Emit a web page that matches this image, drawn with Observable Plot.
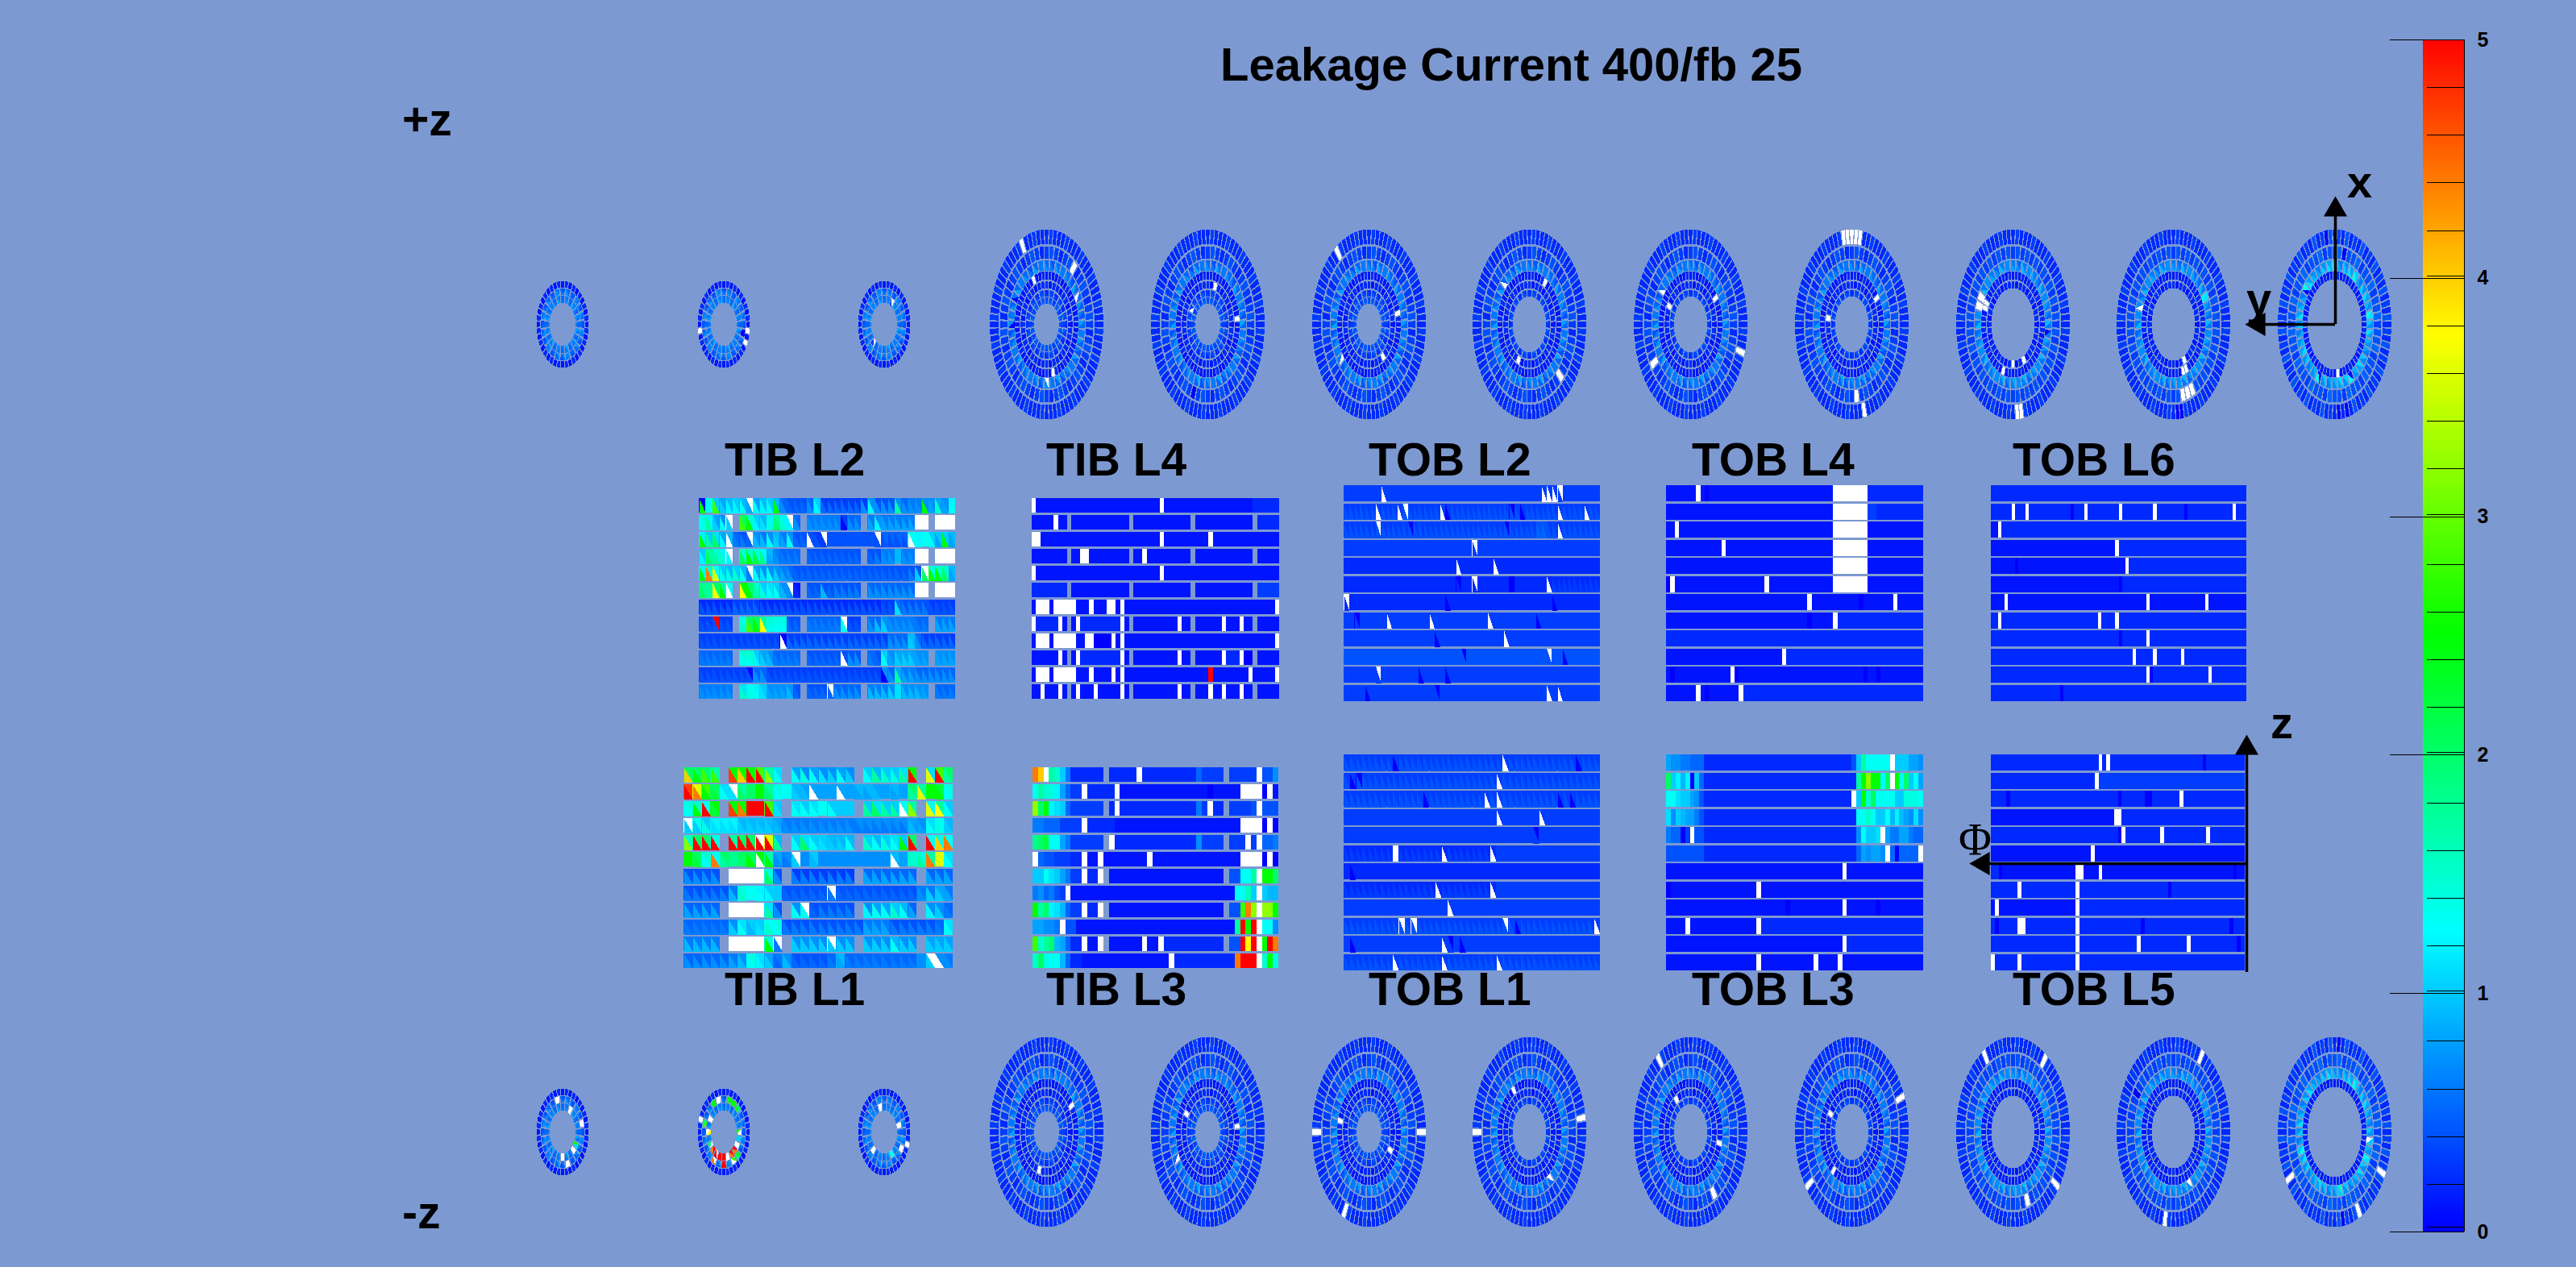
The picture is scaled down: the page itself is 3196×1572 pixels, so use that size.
<!DOCTYPE html>
<html><head><meta charset="utf-8">
<script src="https://cdn.jsdelivr.net/npm/d3@7"></script>
<script src="https://cdn.jsdelivr.net/npm/@observablehq/plot@0.6"></script>
<style>
html,body{margin:0;padding:0;background:#7d99d1;}
#chart{position:relative;width:3196px;height:1572px;background:#7d99d1;overflow:hidden;font-family:"Liberation Sans",Arial,sans-serif;}
#chart svg{position:absolute;max-width:none;background:transparent;}
.lab{position:absolute;font-weight:bold;color:#000;white-space:nowrap;line-height:1;}
</style></head><body><div id="chart"></div>
<script>
// ---------- value codes ----------
const levelTable={a:0,b:.1,c:.2,d:.3,e:.4,f:.5,g:.6,h:.7,i:.8,j:.9,k:1,l:1.1,m:1.2,n:1.3,o:1.4,p:1.5,q:1.6,r:1.7,s:1.8,t:2,u:2.2,v:2.5,x:2.8,y:3.2,z:3.6,A:3.75,B:4,C:4.4,D:4.7,E:5};
const colorStops=[0,1.25,2.5,3.75,5];
const colorNames=["#0000ff","#00ffff","#00ff00","#ffff00","#ff0000"];
const majorTicks=[0,1,2,3,4,5];
const minorTicks=[.02,.2,.4,.6,.8,1.01,1.2,1.4,1.6,1.8,2.01,2.2,2.4,2.6,2.8,3.01,3.2,3.4,3.6,3.8,4.01,4.2,4.4,4.6,4.8];

// ---------- barrel maps with stereo modules: "LU" lower/upper triangle, ".." no module, *n repeat ----------
const tibL1Rows=[
"Bt vt xt xr .. Dv Bv Ev Ex yr nl .. ni oh ni lh kh ni kh .. nk rj pk ok rl Ev .. zl Ex rt",
"ED Cz vx ut nl lw tr tt vv tr no nn kj ji wi ii ii wi ii ij ij ji ii ij ii rt zr vv vu no",
"no vp En uv .. Dv Cv EE EE Ex lk .. nl nk nl nn nk kk kk .. rk tl rk rk wn yr .. zn Ar nk",
"kw kn ok lm lm lm kj kj kj kj ji hg hg hg hg hg hg hg hg gh gh gh gh gh gh ji ih nl on kj",
"yp Et Et Eo .. Er Et Et Ew Ez rj .. nk tl nk lk kj kj nj .. pk nj ok nl vk Et .. En Bo Cn",
"vv ut np Cn rt ss tt vt wv vr hi gh kw hh jk hh hh hh hh hh hh hh hh wj ii pp ro Cr zz nl",
"he he he he .. ww ww ww ww to he .. gd gd gd gd gd gd gd .. if if if if if if .. if if if",
"ge ge ge ge ge jg po nn nm mk kk fe fe fe fe fe gw fe fe fe fe fe fe fe fe fe hg kg ki ig",
"if if if if .. ww ww ww ww rl he .. nh nw fe ge ge ge ge .. mh ni ni pk nj if .. mh kh gf",
"gf gf gf gf gf kh nl jk lk pn no ge ge ge ge ge ge ge ge ge ig ig ig ge ge ge ge ge gf nl",
"jg jg jg jg .. ww ww ww ww vo gw .. kh kh kh kh kw kh kh .. kh kh kh nj kh kh .. ki ki ki",
"hf hf hf hf hf ig jh no ml ki fg jh fe fe fe fe gf ij gf gf gf gf gf gf gf gf hh kw wh hg"];
const tibL2Rows=[
"va nn xk ki mj mk nj iw ni mj nk vj hf fe fe fe hf mk fd fd fd fd fd fd hd nh he he he rh hf hg hg vh ih pi ih nm",
"no rm ki nh kw .. xt vp mk lj om tr pm mw hf .. hg hg hg hg hg ad hf hf .. ig mh ig ig ig ig ig ww ww .. ww ww ww",
"vm rk tl mi wj gf ge fw jh jg nh kj ig nh fe fe we ed dw ee ee ee ee ee ee ee ew ef ef ef ef wn nm nn nk ik vk ij",
"mk tr rp pm mw .. to vp uo sm ij hg gf gf gf .. fe fe fe fe fe fe fe fe .. fe ge hg hg jj hg hg ww ww .. ww ww ww",
"vn Cp zn nk oj pk nj gw ni lh nh kh ig hf fe fe fe fe fe fe fe fe fe fe fe fe fe fe fe fe fe ge ke tw vo vp tp ij",
"ts rs At vr wn .. Av vt rp ok nl nk jh hw cb .. fe fe je fe ge ge ge ge .. hf hf hf hf hf hf hf ww ww .. ww ww ww",
"ec ec ec ec ec fd fd fd fd ec ec ec ec ec ec ec ec ec ec ec ec ec ec ec ec ec ec ed ed lf ge ge ge ge ed ed ed ed",
"ed ed eE ed ed .. pn xt vt Ar np no no fe fe .. gf gf gf gf gf nw ed ed .. hf jf kh hg hg hg hg gf gf .. ig ig ig",
"ed ed ed ed ed ed ed ed ed ed ed ed wa fd fd fd fd fd fd fd fd fd fd fd fd fd fd fd hf hf hf kj hf fd fd fd fd fd",
"gf gf gf gf gf .. np np mk ki jh gf gf gf gf .. fe fe fe fe fe we he he .. gf fe nk ih ki ki ki ih ih .. ih ih ih",
"ed ed ed ed ed ed ed ea hf hf ed ed ed ed ed ed ed ed ed ed ed ed ed ed ed ed ed ah hf ri ig ig hf hf hf hf hf hf",
"hg hg hg hg hg .. pl on nm lk ih ih ih jh fe .. fe fe fe fw hf hf hf hf .. jg jg jg kh ll jh jh jh ih .. gf gf gf"];
const tobL1Rows=[
"ed*8 ad ed*17 wd ed*11 ad ed*3","ed ad ea ed*22 wd ed*16","ed*13 ad ed*9 wd ed wd ed*9 ad ed ad ed*4","dd*25 wd dd*6 wd dd*9",
"dd*31 da dd*10","dc*8 ww dc*7 wc dc*7 wc dd*17","cc ac cc*40","dc*15 wc dc*8 wc dd*17",
"dd*17 wd dd*24","ed*9 ew ed ew ed*14 ew ed ad ed*12 wd","dd ad dd*14 wd da dd ad dd*22","ed*8 wd ed*7 wd ed*8 wd ed*16"];
const tobL2Rows=[
"dd*7 wd dd*29 wd wd wd dw dd*7","ed*6 wd ed*3 wd ew ed*6 wd ad ed*11 ea ed ad ed*6 wd ed*4 wd ed*2",
"ed*6 ew ed*5 ea ed*17 ea ed*5 fe fe ed*2 wd ed*7","dd*24 dw dd*23",
"cc*21 wc cc*6 wc cc*19","cc*21 ca cc*2 cw cc*6 aa cc*6 wc dc*9","cw cc*18 ac cc*19 ac cc*8",
"dd*2 da dd*5 wd dd*7 wd dd*10 wd dd*8 ad dd*11","dd*17 ad dd*12 wd dd*17","ee*22 ea ee*15 ew ee*2 ae ee*6",
"dd*6 dw dd*7 ad dd*4 ad dd*28","dd*4 ad dd*12 da dd*20 wd dd wd dd*7"];

// ---------- barrel maps with plain modules: code + run length, w = no reading, . = no module ----------
const tibL3Rows=[
"C1 B1 w1 r1 p1 k1 g1 c6 .1 c5 w1 c10 f1 d4 .1 d5 w1 e2 h1",
"n1 r1 p1 o1 m1 i1 f1 d2 w1 c5 w1 b16 a1 b5 w4 a1 w1 b1",
"y1 t1 v1 m1 l1 k1 f1 d6 .1 c1 w1 c14 g1 d1 w1 c2 .1 d4 e1 w1 e3",
"g2 f3 d4 w1 c5 b23 w4 a1 w1 a1",
"s1 t1 u1 n2 i1 g1 d6 .1 w1 c15 h1 d4 .1 d3 w1 d1 w1 f2 g1",
"w1 f1 e2 d3 c2 w1 b2 w1 b8 w1 b16 w4 a1 w1 a1",
"k2 n1 l1 k1 i1 g1 d2 w1 c2 w1 .1 b21 .1 e2 n2 r1 w1 v2 t1",
"g1 h1 f1 g1 e1 d1 w1 b30 n2 q1 k1 w1 k1 j2",
"v1 r1 t1 m1 l1 j1 f1 d2 w1 c2 w1 .1 b21 .1 e2 x1 C1 y1 w1 y2 v1",
"i2 h2 g1 w1 e2 b29 r1 E1 v1 E1 w1 n2 h1",
"x1 p1 r1 t1 j1 i1 f1 c2 w1 b2 w1 .1 b6 w1 b2 w1 c11 .1 e2 E1 A1 E1 w1 v1 E1 C1",
"p1 t1 o1 n2 j1 f1 c2 b16 w1 c11 C1 E3 w1 p1 v1 o1"];
const tibL4Rows=[
"w1 b28 w1 b20 c6","b5 w1 b2 .1 b13 .1 b13 .1 b13 .1 c5","w2 b27 w1 b10 w1 b15","b8 .1 b2 w2 b9 .1 b2 w1 b10 .1 b13 .1 b5",
"w1 b28 w1 b26","c8 .1 b13 .1 b13 .1 b13 .1 d5","b1 w3 b1 w5 b3 w1 b3 w2 b1 w1 b34 w1",
"w1 c5 w1 b1 .1 b1 w1 c9 w1 b1 .1 b10 w1 b2 .1 b6 w1 b3 w1 b2 .1 b5",
"b1 w3 b1 w5 b2 w2 a4 w1 b1 w1 b34 w1","b6 w1 b1 .1 b1 w1 c9 w1 b1 .1 b10 w1 b2 .1 b6 w1 c3 w1 a2 .1 b5",
"b1 w3 b1 w5 b3 w1 b4 w1 b1 w1 b19 E1 b8 w1 b5 w1",
"b2 w1 b3 w1 b1 .1 b1 w1 b3 w1 b5 w1 b1 .1 b10 w1 b2 .1 b3 w1 b2 w1 b3 w1 b2 .1 b5"];
const tobL3Rows=[
"i1 h2 g2 f3 c31 e1 k1 r1 n5 w1 k3 i2 h1",
"t1 k1 m1 j1 m1 a1 k1 f1 c32 r1 v1 y1 v2 n1 t1 w1 v1 n1 t1 k1 n1 i1",
"n2 l1 k2 i1 h1 e1 c31 w1 k1 v1 p1 t1 n4 k2 o3 n1",
"l1 h1 k1 j1 i2 g1 e1 c32 n2 p1 n1 k2 n1 j1 m1 j1 i1 h1 l1 h1",
"g1 f2 a1 d1 w1 e2 c32 h1 n1 k2 l1 w1 i1 g2 i2 g1 f2",
"e8 c32 f1 i1 h1 i2 h1 w1 f1 a1 f4 w1",
"b37 w1 b16","a1 b18 w1 b34","b25 a1 b11 w1 b6 a1 b9","b4 w1 b14 w1 c34","b37 w1 c16","b19 w1 b11 w1 b4 w1 b17"];
const tobL4Rows=[
"b7 w1 b1 a1 b29 w8 c13","b39 w8 d2 c11","b2 w1 b36 w8 b13","b13 w1 b25 w8 b13","b39 w8 b13","a1 w1 b21 w1 b15 w8 b13",
"b33 w1 b11 a1 b7 w1 b6","b33 a1 b5 w1 c20","c60","b27 w1 c32","b1 a1 b13 w1 a1 b29 a1 b2 a1 b10","b7 w1 b1 a1 b7 w1 c42"];
const tobL5Rows=[
"c28 w1 c1 w1 c24 a1 c10","c27 w1 d38","c4 a1 c28 a1 c6 a2 c7 w1 c16","b32 w2 c32","c33 a1 w1 c9 w1 c11 w1 c9","b26 w1 b39",
"c2 a1 b19 w2 b4 w1 b34 a1 b2","c7 w1 c14 w1 c23 a1 c19","b1 w1 b20 w1 c43","c1 a1 c5 w2 c13 w1 c16 a1 c22 a1 c3",
"c22 w1 c15 w1 c12 w1 c12 a1 c1","w1 c6 w1 c14 w1 c43"];
const tobL6Rows=[
"c74","c6 w1 c3 w1 c12 a1 c3 w1 c9 w1 c9 w1 c8 a1 c13 w1 c3","b2 w1 c71","b36 w1 c37","b7 a1 b31 w1 c34","b37 a1 c36",
"b4 w1 b40 w1 b16 w1 b11","c2 w1 c28 w1 c4 w1 c37","c37 a1 c7 w1 c28","c41 w1 c5 w1 c7 w1 c18","c45 w1 a1 c16 w1 c10","c20 a1 c53"];

// ---------- endcap disks ----------
// usual module level per ring: plain rings one string, stereo rings [lower, upper]
const profileA={7:"cdcc",6:"dedc",5:["hgig","fefg"],4:"bcb",3:"cbc",2:["de","cd"],1:["ef","de"]};
const profileC={7:"cdcc",6:"dede",5:["ihjh","gfgh"],4:"bc",3:"cbc"};
const profileD={7:"cdce",6:"efde",5:["jikl","hghi"],4:"bc"};
const profileT={3:"bcbc",2:["ghfh","efeg"],1:["ghgi","fgfg"]};
const diskRings=[3,3,3,7,7,7,6,6,6,5,5,4];
const diskProfiles=[profileT,profileT,profileT,profileA,profileA,profileA,profileA,profileA,profileA,profileC,profileC,profileD];
// exceptions: [ring, phi clockwise from top (deg), level or lower+upper level]
const exceptionsPlusZ=[
[],
[[3,260,"w"],[3,100,"w"],[3,118,"w"],[2,110,"a"]],
[[1,25,"dw"],[1,222,"wd"]],
[[7,333,"w"],[6,40,"w"],[4,337,"w"],[5,60,"wf"],[4,165,"w"],[5,176,"wh"],[5,300,"ag"],[5,272,"ah"]],
[[4,85,"w"],[3,20,"w"],[6,200,"a"],[2,300,"wd"]],
[[7,322,"w"],[4,80,"w"],[5,232,"wg"],[3,140,"w"]],
[[5,313,"wf"],[6,136,"w"],[4,30,"w"],[3,210,"w"]],
[[5,308,"wf"],[4,60,"w"],[7,110,"w"],[6,240,"w"],[3,300,"w"]],
[[7,352,"w"],[7,356,"w"],[7,0,"w"],[7,4,"w"],[7,8,"w"],[7,165,"w"],[6,175,"w"],[4,60,"w"],[3,280,"w"]],
[[5,285,"w"],[4,290,"w"],[4,296,"w"],[5,295,"w"],[4,200,"w"],[3,180,"w"],[3,155,"w"],[7,176,"w"],[7,172,"w"],[5,100,"ag"]],
[[5,285,"wh"],[3,157,"w"],[3,150,"w"],[4,158,"w"],[4,153,"w"],[6,158,"w"],[6,164,"w"],[6,152,"w"],[7,176,"a"],[7,170,"a"],[5,60,"ml"]],
[[7,352,"a"],[6,15,"a"],[4,172,"w"],[5,305,"an"],[5,35,"nk"],[5,0,"nl"],[5,85,"nl"],[7,165,"a"],[7,175,"a"],[5,205,"an"],[5,155,"an"]]];
const exceptionsMinusZ=[
[[2,340,"w"],[1,30,"w"],[2,70,"w"],[1,115,"vl"],[1,135,"w"],[1,180,"w"],[2,160,"w"]],
[[2,345,"w"],[2,15,"vv"],[2,325,"vv"],[2,35,"vv"],[2,50,"vt"],[2,290,"xt"],[1,295,"w"],[3,285,"w"],[1,270,"Aw"],[1,90,"vw"],[1,245,"wt"],[1,230,"EC"],[1,210,"wE"],[1,195,"EE"],[1,185,"Ew"],[1,178,"EE"],[1,165,"w"],[1,150,"EC"],[1,135,"EC"],[2,130,"vt"],[2,180,"EE"],[2,205,"wC"],[2,155,"xw"],[1,120,"w"],[1,105,"kk"]],
[[1,340,"w"],[1,70,"w"],[3,105,"w"],[2,115,"w"],[1,230,"w"],[1,155,"nn"]],
[[4,60,"w"],[3,200,"w"],[6,150,"a"]],
[[4,85,"w"],[5,240,"wf"],[3,300,"w"]],
[[7,207,"w"],[7,270,"w"],[7,90,"w"],[4,280,"w"],[3,120,"w"]],
[[7,270,"w"],[7,80,"w"],[4,330,"w"],[5,140,"wf"]],
[[7,325,"w"],[6,150,"w"],[3,320,"w"],[4,100,"w"]],
[[7,68,"w"],[3,300,"w"],[7,233,"w"],[4,220,"w"]],
[[7,330,"w"],[7,37,"w"],[7,126,"w"],[6,160,"w"]],
[[7,30,"w"],[6,300,"a"],[5,150,"wh"],[7,190,"w"]],
[[7,240,"w"],[7,115,"w"],[7,155,"w"],[5,95,"wk"],[7,3,"a"],[7,170,"a"],[5,173,"pk"],[5,40,"nk"],[5,250,"nk"],[5,120,"nl"]]];
// detector geometry: ring, modules, inner and outer radius, stereo
const tecGeometry=[[7,80,100,118,false],[6,56,82,97,false],[5,40,67,80,true],[4,56,56,66,false],[3,40,45,54,false],[2,24,35,43,true],[1,24,26,34,true]];
const tidGeometry=[[3,40,46,54,false],[2,24,37,45,true],[1,24,27,36,true]];

// ---------- labels ----------
const titleText="Leakage Current 400/fb 25";
const panelNames=["TIB L2","TIB L4","TOB L2","TOB L4","TOB L6","TIB L1","TIB L3","TOB L1","TOB L3","TOB L5"];

// ---------- layout ----------
const panelBoxes=[
 {rows:tibL2Rows,pairs:true ,cols:38,x:867 ,y:618,w:318,h:249,k:.875},
 {rows:tibL4Rows,pairs:false,cols:56,x:1280,y:618,w:307,h:249,k:.875},
 {rows:tobL2Rows,pairs:true ,cols:48,x:1667,y:602,w:318,h:268,k:.9},
 {rows:tobL4Rows,pairs:false,cols:60,x:2067,y:602,w:319,h:268,k:.9},
 {rows:tobL6Rows,pairs:false,cols:74,x:2470,y:602,w:317,h:268,k:.9},
 {rows:tibL1Rows,pairs:true ,cols:30,x:848 ,y:952,w:334,h:249,k:.875},
 {rows:tibL3Rows,pairs:false,cols:45,x:1281,y:952,w:305,h:249,k:.875},
 {rows:tobL1Rows,pairs:true ,cols:42,x:1667,y:936,w:318,h:268,k:.9},
 {rows:tobL3Rows,pairs:false,cols:54,x:2067,y:936,w:319,h:268,k:.9},
 {rows:tobL5Rows,pairs:false,cols:66,x:2470,y:936,w:315,h:268,k:.9}];
const labelX=[899,1298,1698,2099,2497,899,1298,1698,2099,2497];
const labelBase=[590,590,590,590,590,1247,1247,1247,1247,1247];
const diskCentres=[697,897,1096,1298,1498,1698,1897,2097,2297,2497,2696,2896];

const root=document.getElementById("chart");
const colorScale={type:"linear",domain:colorStops,range:colorNames,clamp:true};
function place(svg,x,y){svg.style.left=x+"px";svg.style.top=y+"px";root.appendChild(svg);}
function label(text,x,base,size,extra){
  const d=document.createElement("div");d.className="lab";d.textContent=text;
  d.style.left=x+"px";d.style.top=(base-.8465*size)+"px";d.style.fontSize=size+"px";
  if(extra)Object.assign(d.style,extra);root.appendChild(d);
}
const crisp={shapeRendering:"crispEdges"};
const val=c=>levelTable[c];

function polyMarks(pts){
  return [
    Plot.line(pts.filter(p=>p.code!=="w"),{x:"x",y:"y",z:"id",fill:p=>val(p.code),stroke:"none",...crisp}),
    Plot.line(pts.filter(p=>p.code==="w"),{x:"x",y:"y",z:"id",fill:"white",stroke:"none",...crisp})
  ];
}
function rectMarks(cells){
  return [
    Plot.rect(cells.filter(c=>c.code!=="w"),{x1:"x1",x2:"x2",y1:"y1",y2:"y2",fill:c=>val(c.code),...crisp}),
    Plot.rect(cells.filter(c=>c.code==="w"),{x1:"x1",x2:"x2",y1:"y1",y2:"y2",fill:"white",...crisp})
  ];
}
function parseRuns(s){
  const out=[];
  s.trim().split(/\s+/).forEach(t=>{const n=+t.slice(1);for(let i=0;i<n;i++)out.push([t[0],t[0]]);});
  return out;
}
function parsePairs(s){
  const out=[];
  s.trim().split(/\s+/).forEach(t=>{
    const [p,n]=t.split("*");
    for(let i=0;i<(n?+n:1);i++)out.push([p[0],p[1]]);
  });
  return out;
}
function drawPanel(b){
  const cells=[],tri=[];let id=0;
  b.rows.forEach((str,r)=>{
    const mods=b.pairs?parsePairs(str):parseRuns(str);
    mods.forEach(([L,U],c)=>{
      if(L===".")return;
      cells.push({x1:c,x2:c+1,y1:r,y2:r+b.k,code:U});
      if(b.pairs&&L!==U){
        id++;
        tri.push({id,code:L,x:c,y:r},{id,code:L,x:c,y:r+b.k},{id,code:L,x:c+1,y:r+b.k});
      }
    });
  });
  const svg=Plot.plot({width:b.w,height:b.h,margin:0,
    x:{domain:[0,b.cols],axis:null},y:{domain:[0,b.rows.length-1+b.k],reverse:true,axis:null},
    color:colorScale,
    marks:[...rectMarks(cells),...polyMarks(tri)]});
  place(svg,b.x,b.y);
}
panelBoxes.forEach(drawPanel);
panelNames.forEach((n,i)=>label(n,labelX[i],labelBase[i],57));

function drawDisk(cx,cy,nRings,profile,exceptions){
  const small=nRings===3&&profile===profileT;
  const geom=(small?tidGeometry:tecGeometry).slice(0,nRings);
  const R=small?54:119, rx=small?32.5:71;
  const base=[],tri=[];let id=0;
  geom.forEach(([ring,n,r1,r2,stereo])=>{
    const prof=profile[ring];
    const codes=d3.range(n).map(i=>stereo?[prof[0][i%prof[0].length],prof[1][i%prof[1].length]]:[prof[i%prof.length],prof[i%prof.length]]);
    exceptions.filter(e=>e[0]===ring).forEach(([,phi,code])=>{
      codes[Math.round(phi/360*n)%n]=[code[0],code[1]||code[0]];
    });
    const half=.39*2*Math.PI/n;
    codes.forEach(([L,U],i)=>{
      const a=i*2*Math.PI/n;
      const P=(r,d)=>({x:r*Math.sin(a+d),y:-r*Math.cos(a+d)});
      const A=P(r2,-half),B=P(r2,half),C=P(r1,half),D=P(r1,-half);
      id++;
      [A,B,C,D].forEach(p=>base.push({id,code:U,...p}));
      if(L!==U){id++;[A,D,C].forEach(p=>tri.push({id,code:L,...p}));}
    });
  });
  const svg=Plot.plot({width:2*rx,height:2*R,margin:0,
    x:{domain:[-R,R],axis:null},y:{domain:[-R,R],reverse:true,axis:null},
    color:colorScale,
    marks:[...polyMarks(base),...polyMarks(tri)]});
  place(svg,cx-rx,cy-R);
}
diskCentres.forEach((cx,i)=>{
  drawDisk(cx,402,diskRings[i],diskProfiles[i],exceptionsPlusZ[i]);
  drawDisk(cx,1404,diskRings[i],diskProfiles[i],exceptionsMinusZ[i]);
});

// colour bar
const barSteps=d3.range(0,5,.02);
place(Plot.plot({width:190,height:1530,marginTop:29,marginBottom:22,marginLeft:0,marginRight:0,
  x:{domain:[0,1],range:[56,107],axis:null},y:{domain:[0,5],axis:null},color:colorScale,
  marks:[
    Plot.rect(barSteps,{x1:0,x2:1,y1:d=>d,y2:d=>d+.0205,fill:d=>d,...crisp}),
    Plot.ruleY(minorTicks,{x1:.1,x2:1,stroke:"black",strokeWidth:1,...crisp}),
    Plot.ruleY(majorTicks,{x1:-.8,x2:1,stroke:"black",strokeWidth:1,...crisp}),
    Plot.ruleX([1],{y1:0,y2:5,stroke:"black",strokeWidth:1.5,...crisp}),
    Plot.text(majorTicks,{x:1,y:d=>d,text:d=>String(d),dx:16,textAnchor:"start",fontSize:25,fontWeight:"bold",fontFamily:"Liberation Sans",fill:"black"})
  ]}),2950,20);

// coordinate arrows (unit axes)
const head={symbol:"triangle",r:10.8,fill:"black",stroke:"none"};
place(Plot.plot({width:150,height:190,margin:0,
  x:{domain:[0,1],range:[127,40],axis:null},y:{domain:[0,1],range:[172,38],axis:null},
  marks:[
    Plot.ruleX([0],{y1:0,y2:1,stroke:"black",strokeWidth:3.5}),
    Plot.ruleY([0],{x1:0,x2:1,stroke:"black",strokeWidth:3.5}),
    Plot.dot([[0,1]],{x:d=>d[0],y:d=>d[1],dy:-8.3,...head}),
    Plot.dot([[1,0]],{x:d=>d[0],y:d=>d[1],dx:-8.3,rotate:-90,...head})
  ]}),2770,230);
place(Plot.plot({width:400,height:330,margin:0,
  x:{domain:[0,1],range:[367,48],axis:null},y:{domain:[-1,1],range:[316,46],axis:null},
  marks:[
    Plot.ruleX([0],{y1:-1,y2:1,stroke:"black",strokeWidth:3.5}),
    Plot.ruleY([0],{x1:0,x2:1,stroke:"black",strokeWidth:3.5}),
    Plot.dot([[0,1]],{x:d=>d[0],y:d=>d[1],dy:-8.3,...head}),
    Plot.dot([[1,0]],{x:d=>d[0],y:d=>d[1],dx:-8.3,rotate:-90,...head})
  ]}),2420,890);

label(titleText,1514,100,58);
label("+z",499,168,57);
label("-z",499,1524,57);
label("x",2912,245,56);
label("y",2787,390,56);
label("z",2817,916,56);
label("Φ",2430,1061,56,{fontFamily:"Liberation Serif",fontWeight:"normal"});
</script></body></html>
